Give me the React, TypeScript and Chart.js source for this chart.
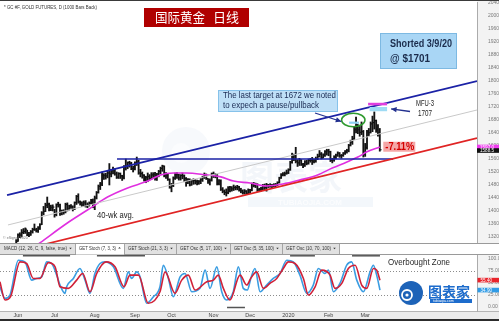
import { useEffect, useRef } from "react";
import { Chart, registerables } from "chart.js";

Chart.register(...registerables);

const SANS = '"Liberation Sans", Arial, Helvetica, sans-serif';
const CJK = '"Noto Sans CJK SC", "Noto Sans CJK TC", sans-serif';

// Horizontal axis counts trading days: day 0 is 3 Jun 2019, the last bar is 12 Mar 2020
const DAY_MIN = -9.85;
const DAY_MAX = 251.2;
const PRICE_MIN = 1301.5;
const PRICE_MAX = 2043.1;
const STOCH_MIN = -8.25;
const STOCH_MAX = 107.2;

const firstBarDay = -1;

const barHigh = [
  1312,
  1330, 1333, 1343, 1346, 1348, 1341, 1334, 1340, 1347, 1360,
  1347, 1352, 1361, 1398, 1414, 1424, 1443, 1424, 1418, 1419,
  1405, 1422, 1427, 1421, 1403, 1404, 1424, 1425, 1418, 1420,
  1416, 1428, 1448, 1453, 1431, 1428, 1431, 1432, 1425, 1428,
  1436, 1437, 1446, 1460, 1480, 1488, 1520, 1515, 1516, 1522,
  1546, 1528, 1535, 1530, 1520, 1518, 1517, 1510, 1540, 1560,
  1551, 1553, 1550, 1538, 1551, 1566, 1556, 1528, 1520, 1512,
  1507, 1517, 1512, 1518, 1518, 1519, 1516, 1525, 1535, 1541,
  1539, 1518, 1515, 1499, 1485, 1505, 1517, 1518, 1513, 1512,
  1517, 1511, 1503, 1500, 1499, 1496, 1499, 1497, 1495, 1494,
  1500, 1507, 1517, 1514, 1500, 1499, 1517, 1520, 1515, 1512,
  1497, 1496, 1472, 1465, 1468, 1475, 1476, 1475, 1480, 1477,
  1479, 1476, 1470, 1465, 1466, 1463, 1468, 1467, 1486, 1488,
  1486, 1484, 1470, 1473, 1482, 1483, 1485, 1482, 1484, 1482,
  1484, 1485, 1490, 1504, 1515, 1518, 1520, 1526, 1530, 1553,
  1578, 1575, 1596, 1558, 1562, 1558, 1547, 1555, 1556, 1560,
  1562, 1565, 1560, 1566, 1575, 1586, 1580, 1576, 1586, 1590,
  1590, 1584, 1562, 1570, 1575, 1582, 1580, 1574, 1580, 1586,
  1590, 1605, 1618, 1630, 1658, 1689, 1666, 1660, 1674, 1648,
  1608, 1648, 1654, 1674, 1692, 1705, 1680, 1666, 1654,
];

const barLow = [
  1292,
  1306, 1318, 1320, 1330, 1331, 1324, 1321, 1325, 1332, 1340,
  1335, 1334, 1343, 1358, 1388, 1398, 1410, 1400, 1401, 1400,
  1381, 1385, 1412, 1386, 1388, 1390, 1394, 1400, 1403, 1408,
  1400, 1404, 1420, 1424, 1418, 1413, 1414, 1412, 1410, 1415,
  1420, 1410, 1404, 1437, 1455, 1466, 1478, 1497, 1498, 1502,
  1480, 1505, 1514, 1510, 1500, 1500, 1500, 1494, 1499, 1526,
  1530, 1535, 1527, 1520, 1526, 1540, 1513, 1505, 1501, 1492,
  1487, 1490, 1496, 1497, 1500, 1495, 1494, 1505, 1514, 1522,
  1505, 1500, 1494, 1470, 1459, 1475, 1497, 1500, 1495, 1495,
  1499, 1490, 1476, 1484, 1477, 1479, 1482, 1483, 1480, 1482,
  1484, 1491, 1500, 1497, 1485, 1480, 1492, 1503, 1502, 1480,
  1480, 1463, 1456, 1450, 1446, 1453, 1459, 1461, 1463, 1465,
  1465, 1461, 1456, 1452, 1452, 1451, 1453, 1454, 1462, 1474,
  1472, 1460, 1460, 1461, 1464, 1465, 1461, 1472, 1473, 1472,
  1474, 1474, 1478, 1486, 1500, 1508, 1508, 1513, 1515, 1525,
  1547, 1555, 1548, 1537, 1540, 1540, 1533, 1537, 1542, 1544,
  1550, 1543, 1548, 1550, 1558, 1566, 1560, 1563, 1568, 1572,
  1570, 1552, 1548, 1553, 1560, 1568, 1565, 1562, 1568, 1574,
  1578, 1582, 1600, 1605, 1620, 1640, 1638, 1630, 1635, 1566,
  1568, 1590, 1632, 1640, 1644, 1652, 1642, 1630, 1584,
];

const barClose = [
  1306,
  1326, 1326, 1334, 1337, 1344, 1327, 1326, 1336, 1343, 1342,
  1339, 1346, 1358, 1394, 1399, 1418, 1421, 1407, 1411, 1412,
  1389, 1420, 1419, 1400, 1399, 1397, 1420, 1406, 1415, 1413,
  1406, 1426, 1445, 1428, 1426, 1419, 1425, 1415, 1419, 1424,
  1431, 1413, 1440, 1457, 1476, 1483, 1510, 1509, 1508, 1517,
  1514, 1524, 1525, 1514, 1504, 1515, 1508, 1505, 1537, 1537,
  1549, 1547, 1530, 1529, 1548, 1551, 1517, 1515, 1510, 1499,
  1503, 1506, 1500, 1511, 1513, 1502, 1514, 1522, 1531, 1538,
  1512, 1512, 1497, 1472, 1478, 1501, 1513, 1512, 1502, 1509,
  1508, 1500, 1489, 1497, 1480, 1493, 1494, 1490, 1485, 1491,
  1496, 1503, 1512, 1500, 1493, 1494, 1515, 1511, 1509, 1484,
  1493, 1467, 1461, 1457, 1456, 1465, 1473, 1468, 1472, 1472,
  1474, 1465, 1462, 1456, 1461, 1454, 1465, 1463, 1484, 1478,
  1482, 1465, 1467, 1469, 1478, 1472, 1480, 1477, 1479, 1478,
  1481, 1481, 1488, 1502, 1512, 1513, 1515, 1517, 1527, 1550,
  1560, 1570, 1553, 1548, 1557, 1543, 1540, 1551, 1547, 1556,
  1556, 1553, 1554, 1561, 1568, 1575, 1563, 1572, 1583, 1585,
  1582, 1556, 1557, 1566, 1572, 1578, 1570, 1571, 1578, 1584,
  1586, 1602, 1612, 1622, 1650, 1666, 1650, 1642, 1644, 1575,
  1595, 1643, 1641, 1668, 1672, 1678, 1650, 1641, 1588.5,
];

const monthTickDay = [0, 20, 42, 64, 84, 107, 127, 148, 170, 190];
const monthTickLabel = ["Jun", "Jul", "Aug", "Sep", "Oct", "Nov", "Dec", "2020", "Feb", "Mar"];

const priceTicks = [1320, 1360, 1400, 1440, 1480, 1520, 1560, 1600, 1640, 1680, 1720, 1760, 1800, 1840, 1880, 1920, 1960, 2000, 2040];
const stochTicks = [0, 25, 50, 75, 100];

// 40-week moving average
const maDay = [8, 12, 27, 38, 49, 60, 71, 78, 85, 92, 103, 111, 118, 127, 136, 145, 154, 164, 172, 180, 186, 191, 198];
const maPrice = [1286, 1302, 1363, 1403, 1443, 1471, 1492, 1511, 1517, 1517, 1511, 1505, 1492, 1486, 1477, 1483, 1495, 1511, 1532, 1551, 1566, 1582, 1597];

// Channel and support lines (end points)
const upperChannelDay = [-6, 251.2];
const upperChannelPrice = [1449, 1800];
const midChannelDay = [-5.5, 251.2];
const midChannelPrice = [1357, 1710.8];
const lowerChannelDay = [10, 251.2];
const lowerChannelPrice = [1291.1, 1624.6];
const supportDay = [54.2, 205.3];
const supportPrice = [1560, 1560];

// Stochastic (7, 3, 3)
const stochKDay = [-9.9, -7.1, -4.4, 0.2, 3.8, 7.5, 10.2, 13, 15.7, 18.4, 21.2, 23, 25.7, 26.6, 30.3, 33.9, 36.7, 39.4, 42.1, 44.9, 47.6, 52.2, 57.6, 60.4, 62.2, 65, 66.8, 70.4, 74.1, 77.7, 79.5, 82.3, 85, 88.7, 91.4, 95.1, 99.6, 102.4, 105.1, 108.8, 111.5, 114.2, 117.8, 120.6, 123.3, 125.5, 127.5, 129.7, 132.5, 136.1, 139.7, 143.4, 147.1, 150.7, 154.3, 158, 161.6, 164.4, 168, 169.9, 172.6, 176.2, 179.9, 182.6, 185.4, 189, 192.7, 194.5, 196.3, 198.1];
const stochKValue = [41.7, 17.8, 24.6, 96.5, 93, 55.4, 58.9, 62.2, 93, 89.7, 65.7, 45.2, 28.1, 41.7, 58.9, 79.5, 55.4, 28.1, 69.2, 89.7, 93, 82.8, 38.4, 72.5, 58.9, 72.5, 62.2, 7.6, 21.2, 41.7, 86.2, 58.9, 21.2, 62.2, 69.2, 31.4, 38.4, 76, 38.4, 82.8, 31.4, 14.4, 31.4, 82.8, 38.4, 35, 60, 79.5, 31.4, 45.2, 58.9, 69.2, 96.5, 93, 65.7, 28.1, 45.2, 79.5, 69.2, 76, 31.4, 48.6, 86.2, 93, 55.4, 31.4, 72.5, 86.2, 65.7, 34.9];
const stochDDay = [-9.9, -7.1, -4, 1.1, 4.7, 8.4, 12, 16.6, 20.3, 23, 27.5, 32.1, 35.4, 39.4, 43.1, 48.2, 53.1, 58, 61.3, 65.9, 71.3, 77.7, 80.5, 85.9, 89.6, 93.2, 96.9, 103.3, 106.9, 109.6, 112.4, 116, 121.5, 125.2, 127.5, 130.6, 134.3, 137.9, 141.6, 145.2, 148, 151.6, 156.2, 158.9, 162.6, 166.2, 170.8, 173.5, 177.2, 180.8, 184.5, 188.1, 190.9, 194.5, 196.3, 198.1];
const stochDValue = [52, 14.4, 22, 93, 89.7, 58.9, 58.9, 91.4, 82.8, 41.7, 38.4, 55.4, 69.2, 31.4, 69.2, 93, 82.8, 41.7, 65.7, 65.7, 7.6, 31.4, 72.5, 28.1, 55.4, 65.7, 34.9, 52, 55.4, 65.7, 38.4, 14.4, 65.7, 45.2, 60, 72.5, 38.4, 48.6, 58.9, 79.5, 93, 89.7, 58.9, 24.6, 41.7, 76, 65.7, 38.4, 48.6, 79.5, 86.2, 45.2, 38.4, 79.5, 76, 55.4];

const overboughtSpans = [[2.7, 28.5], [43.2, 69.5], [148.9, 162.5], [182.8, 198.1]];
const oversoldSpans = [[114.4, 124.2]];

// Annotation levels
const targetPrice = 1672;
const mfuPrice = 1707;
const mfuTopPrice = 1733;
const targetHighDay = 185;
const targetHighPrice = 1689;
const dropLabel = "-7.11%";

const indicatorTabs = [
  { label: "MACD (12, 26, C, 9, false, true)", x0: 0, x1: 75, active: false },
  { label: "GET Stoch (7, 3, 3)", x0: 75, x1: 124, active: true },
  { label: "GET Stoch (21, 3, 3)", x0: 124, x1: 176, active: false },
  { label: "GET Osc (5, 17, 100)", x0: 176, x1: 230, active: false },
  { label: "GET Osc (5, 35, 100)", x0: 230, x1: 282, active: false },
  { label: "GET Osc (10, 70, 100)", x0: 282, x1: 339, active: false },
];

const toPoints = (xs: number[], ys: number[]) => xs.map((x, i) => ({ x, y: ys[i] }));

function drawArrow(ctx: CanvasRenderingContext2D, x0: number, y0: number, x1: number, y1: number, color: string) {
  ctx.strokeStyle = color;
  ctx.fillStyle = color;
  ctx.lineWidth = 1.3;
  ctx.beginPath();
  ctx.moveTo(x0, y0);
  ctx.lineTo(x1, y1);
  ctx.stroke();
  const a = Math.atan2(y1 - y0, x1 - x0);
  const L = 5.5;
  const W = 2.6;
  ctx.beginPath();
  ctx.moveTo(x1, y1);
  ctx.lineTo(x1 - L * Math.cos(a) + W * Math.sin(a), y1 - L * Math.sin(a) - W * Math.cos(a));
  ctx.lineTo(x1 - L * Math.cos(a) - W * Math.sin(a), y1 - L * Math.sin(a) + W * Math.cos(a));
  ctx.closePath();
  ctx.fill();
}

function drawTag(ctx: CanvasRenderingContext2D, x: number, y: number, w: number, h: number, bg: string, fg: string, text: string) {
  ctx.fillStyle = bg;
  ctx.fillRect(x, y - h / 2, w, h);
  ctx.fillStyle = fg;
  ctx.font = `4.6px ${SANS}`;
  ctx.textAlign = "left";
  ctx.textBaseline = "middle";
  ctx.fillText(text, x + 3, y + 0.3, w - 5);
}

const priceDecor = {
  id: "priceDecor",
  beforeDraw(chart: any) {
    const { ctx, chartArea: a, width, height } = chart;
    ctx.save();
    ctx.fillStyle = "#f3f3f3";
    ctx.fillRect(a.right, 0, width - a.right, height);
    ctx.restore();
  },
  beforeDatasetsDraw(chart: any) {
    const { ctx } = chart;
    ctx.save();
    // faint site watermark
    ctx.fillStyle = "rgba(205,218,235,0.16)";
    ctx.beginPath();
    ctx.arc(186, 151, 24, 0, Math.PI * 2);
    ctx.fill();
    ctx.fillStyle = "rgba(255,255,255,0.5)";
    ctx.beginPath();
    ctx.arc(181, 153, 10, 0, Math.PI * 2);
    ctx.fill();
    ctx.font = `bold 34px ${CJK}`;
    ctx.fillStyle = "rgba(196,212,232,0.2)";
    ctx.textAlign = "left";
    ctx.textBaseline = "middle";
    ctx.fillText("图表家", 240, 177, 132);
    ctx.fillStyle = "rgba(208,222,238,0.25)";
    ctx.fillRect(248, 197, 125, 10);
    ctx.fillStyle = "rgba(255,255,255,0.7)";
    ctx.font = `bold 8px ${SANS}`;
    ctx.textAlign = "center";
    ctx.fillText("TUBIAOJIA.COM", 310, 202.5, 116);
    ctx.restore();
  },
  afterDatasetDraw(chart: any, args: any) {
    if (args.meta.type !== "bar") return;
    const { ctx, chartArea: a, scales } = chart;
    ctx.save();
    ctx.beginPath();
    ctx.rect(a.left, a.top, a.right - a.left, a.bottom - a.top);
    ctx.clip();
    ctx.fillStyle = "#111";
    barClose.forEach((c, i) => {
      const x = scales.x.getPixelForValue(firstBarDay + i);
      const y = scales.y.getPixelForValue(c);
      ctx.fillRect(x + 0.4, y - 0.6, 1.3, 1.2);
    });
    ctx.restore();
  },
  afterDraw(chart: any) {
    const { ctx, scales } = chart;
    const X = (d: number) => scales.x.getPixelForValue(d);
    const Y = (p: number) => scales.y.getPixelForValue(p);
    ctx.save();

    // symbol caption
    ctx.fillStyle = "#333";
    ctx.font = `4.6px ${SANS}`;
    ctx.textAlign = "left";
    ctx.textBaseline = "middle";
    ctx.fillText("* GC #F, GOLD FUTURES, D (1000 Bars Back)", 4, 7.5, 93);

    // title banner
    ctx.fillStyle = "#b00000";
    ctx.fillRect(144, 8, 105, 19);
    ctx.fillStyle = "#ffffff";
    ctx.font = `13px ${CJK}`;
    ctx.textBaseline = "middle";
    ctx.fillText("国际黄金", 155, 17.5, 50);
    ctx.fillText("日线", 213, 17.5, 26);

    // short entry note
    ctx.fillStyle = "#a9d6f5";
    ctx.fillRect(380, 33, 77, 36);
    ctx.strokeStyle = "#7db9e2";
    ctx.lineWidth = 1;
    ctx.strokeRect(380.5, 33.5, 76, 35);
    ctx.fillStyle = "#1b2c4c";
    ctx.font = `bold 11px ${SANS}`;
    ctx.fillText("Shorted 3/9/20", 390, 43.5, 62);
    ctx.fillText("@ $1701", 390, 59, 40);

    // target note
    ctx.fillStyle = "#bfe0f7";
    ctx.fillRect(218, 90, 120, 22);
    ctx.strokeStyle = "#86c2ea";
    ctx.strokeRect(218.5, 90.5, 119, 21);
    ctx.fillStyle = "#1a2a52";
    ctx.font = `9px ${SANS}`;
    ctx.fillText("The last target at 1672 we noted", 223, 96, 113);
    ctx.fillText("to expech a pause/pullback", 223, 105.5, 96);

    // ring round the target high
    const ex = X(targetHighDay - 1.5);
    const ey = Y(targetHighPrice - 9);
    ctx.fillStyle = "#8fd2f2";
    ctx.fillRect(X(181.2), Y(targetPrice) - 1, X(186.6) - X(181.2), 2.2);
    ctx.strokeStyle = "#2f9a2f";
    ctx.lineWidth = 1.5;
    ctx.beginPath();
    ctx.ellipse(ex, ey, 11.7, 6.7, 0, 0, Math.PI * 2);
    ctx.stroke();
    drawArrow(ctx, 315, 113, ex - 12, ey + 1.5, "#22308f");

    // MFU-3 band
    const mx0 = X(191.6);
    const mx1 = X(202);
    ctx.fillStyle = "#e03ede";
    ctx.fillRect(mx0, Y(mfuTopPrice), mx1 - mx0, Y(1725) - Y(mfuTopPrice));
    ctx.fillStyle = "#9edbf4";
    ctx.fillRect(mx0 + 1.5, Y(1720), mx1 - mx0 - 1.5, Y(mfuPrice) - Y(1720));
    drawArrow(ctx, 410, 111.5, mx1 + 4, Y(1714), "#22308f");
    ctx.fillStyle = "#222";
    ctx.font = `9px ${SANS}`;
    ctx.fillText("MFU-3", 416, 104, 18);
    ctx.fillText(String(mfuPrice), 418, 114, 14);

    // drop from the high
    const lastDay = firstBarDay + barClose.length - 1;
    const lastClose = barClose[barClose.length - 1];
    const bx = X(lastDay) + 3.5;
    const by = Y(lastClose) - 8;
    ctx.fillStyle = "#f4a7a7";
    ctx.fillRect(bx, by, 32, 10);
    ctx.fillStyle = "#d40000";
    ctx.font = `bold 10px ${SANS}`;
    ctx.fillText(dropLabel, bx + 2, by + 5.3, 29);

    // moving average caption
    ctx.fillStyle = "#222";
    ctx.font = `9px ${SANS}`;
    ctx.fillText("40-wk avg.", 97, 216, 37);

    ctx.fillStyle = "#777";
    ctx.font = `3.6px ${SANS}`;
    ctx.fillText("© eSignal 2020", 3, 237.5, 28);

    // value tags on the price axis
    const maLast = maPrice[maPrice.length - 1];
    drawTag(ctx, 477, Y(maLast), 22, 4.6, "#f03cf0", "#ffffff", maLast.toFixed(1));
    drawTag(ctx, 477, Y(lastClose) + 0.8, 22, 4.6, "#111111", "#ffffff", lastClose.toFixed(1));

    ctx.restore();
  },
};

const stochDecor = {
  id: "stochDecor",
  beforeDraw(chart: any) {
    const { ctx, chartArea: a, width, height } = chart;
    ctx.save();
    ctx.fillStyle = "#f3f3f3";
    ctx.fillRect(a.right, a.top, width - a.right, height - a.top);
    ctx.fillStyle = "#ececec";
    ctx.fillRect(0, a.bottom, width, height - a.bottom);
    ctx.strokeStyle = "#b5b5b5";
    ctx.lineWidth = 1;
    ctx.beginPath();
    ctx.moveTo(0, a.bottom + 0.5);
    ctx.lineTo(width, a.bottom + 0.5);
    ctx.stroke();

    // indicator tab strip
    ctx.fillStyle = "#e1e1e1";
    ctx.fillRect(0, 1, 339, 10);
    ctx.strokeStyle = "#9a9a9a";
    ctx.beginPath();
    ctx.moveTo(0, 0.5);
    ctx.lineTo(width, 0.5);
    ctx.moveTo(0, 11.5);
    ctx.lineTo(width, 11.5);
    ctx.stroke();
    indicatorTabs.forEach((t) => {
      if (t.active) {
        ctx.fillStyle = "#ffffff";
        ctx.fillRect(t.x0 + 1, 1, t.x1 - t.x0 - 1, 10.5);
      }
      ctx.strokeStyle = "#a5a5a5";
      ctx.beginPath();
      ctx.moveTo(t.x1 + 0.5, 1);
      ctx.lineTo(t.x1 + 0.5, 11);
      ctx.stroke();
      ctx.fillStyle = "#333";
      ctx.font = `4.6px ${SANS}`;
      ctx.textAlign = "left";
      ctx.textBaseline = "middle";
      ctx.fillText(t.label, t.x0 + 4, 6.2, t.x1 - t.x0 - 12);
      const mx = t.x1 - 4.5;
      ctx.beginPath();
      if (t.active) {
        ctx.moveTo(mx - 1.3, 5.5);
        ctx.lineTo(mx + 1.3, 5.5);
        ctx.lineTo(mx, 4);
      } else {
        ctx.moveTo(mx - 1.3, 4.8);
        ctx.lineTo(mx + 1.3, 4.8);
        ctx.lineTo(mx, 6.3);
      }
      ctx.closePath();
      ctx.fill();
    });
    ctx.restore();
  },
  beforeDatasetsDraw(chart: any) {
    const { ctx, chartArea: a, scales } = chart;
    ctx.save();
    ctx.strokeStyle = "#8c8c8c";
    ctx.lineWidth = 1;
    ctx.setLineDash([1, 2]);
    [25, 75].forEach((v) => {
      const y = Math.round(scales.y.getPixelForValue(v)) + 0.5;
      ctx.beginPath();
      ctx.moveTo(a.left, y);
      ctx.lineTo(a.right, y);
      ctx.stroke();
    });
    ctx.restore();
  },
  afterDraw(chart: any) {
    const { ctx, chartArea: a, scales } = chart;
    const X = (d: number) => scales.x.getPixelForValue(d);
    ctx.save();
    ctx.strokeStyle = "#555";
    ctx.lineWidth = 1.5;
    overboughtSpans.forEach(([d0, d1]) => {
      ctx.beginPath();
      ctx.moveTo(X(d0), a.top + 0.8);
      ctx.lineTo(X(d1), a.top + 0.8);
      ctx.stroke();
    });
    oversoldSpans.forEach(([d0, d1]) => {
      const y = scales.y.getPixelForValue(0) + 0.5;
      ctx.beginPath();
      ctx.moveTo(X(d0), y);
      ctx.lineTo(X(d1), y);
      ctx.stroke();
    });

    ctx.fillStyle = "#2a2a2a";
    ctx.font = `9px ${SANS}`;
    ctx.textAlign = "left";
    ctx.textBaseline = "middle";
    ctx.fillText("Overbought Zone", 388, 19.5, 62);

    // site logo
    ctx.fillStyle = "#1d63b8";
    ctx.beginPath();
    ctx.arc(411, 50, 12, 0, Math.PI * 2);
    ctx.fill();
    ctx.strokeStyle = "#ffffff";
    ctx.lineWidth = 1.8;
    ctx.beginPath();
    ctx.arc(407, 52, 5, 0, Math.PI * 2);
    ctx.stroke();
    ctx.fillStyle = "#ffffff";
    ctx.beginPath();
    ctx.arc(407, 52, 1.6, 0, Math.PI * 2);
    ctx.fill();
    ctx.fillStyle = "#1d6ccc";
    ctx.font = `bold 14px ${CJK}`;
    ctx.fillText("图表家", 428, 48.5, 45);
    ctx.fillRect(430, 56, 42, 4);
    ctx.fillStyle = "#ffffff";
    ctx.font = `3.5px ${SANS}`;
    ctx.fillText("tubiaojia.com", 433, 58.2, 36);

    const kLast = stochKValue[stochKValue.length - 1];
    const dLast = stochDValue[stochDValue.length - 1];
    drawTag(ctx, 477.5, scales.y.getPixelForValue(dLast), 21.5, 4.6, "#e8242c", "#ffffff", dLast.toFixed(2));
    drawTag(ctx, 477.5, scales.y.getPixelForValue(kLast), 21.5, 4.6, "#2f9be6", "#ffffff", kLast.toFixed(2));
    ctx.restore();
  },
};

function rightAxis(min: number, max: number, ticks: number[], digits: number) {
  return {
    position: "right",
    min,
    max,
    grid: { display: false },
    border: { display: true, color: "#ababab", width: 1 },
    ticks: {
      color: "#7a7a7a",
      font: { family: SANS, size: 5 },
      padding: 3,
      callback: (v: any) => Number(v).toFixed(digits),
    },
    afterBuildTicks: (s: any) => {
      s.ticks = ticks.map((value) => ({ value }));
    },
    afterFit: (s: any) => {
      s.width = 22;
      s.paddingTop = 0;
      s.paddingBottom = 0;
    },
  };
}

export default function App() {
  const priceRef = useRef<HTMLCanvasElement>(null);
  const stochRef = useRef<HTMLCanvasElement>(null);

  useEffect(() => {
    document.body.style.margin = "0";
    const bars = barHigh.map((h, i) => ({ x: firstBarDay + i, y: [barLow[i], h] }));
    const line = (label: string, data: any[], color: string, width: number, order: number, extra: any = {}) => ({
      type: "line",
      label,
      data,
      borderColor: color,
      borderWidth: width,
      pointRadius: 0,
      fill: false,
      order,
      ...extra,
    });

    const priceChart = new Chart(priceRef.current as HTMLCanvasElement, {
      type: "bar",
      data: {
        datasets: [
          line("Upper channel", toPoints(upperChannelDay, upperChannelPrice), "#1b22a6", 1.7, 1),
          line("Lower channel", toPoints(lowerChannelDay, lowerChannelPrice), "#e02424", 1.7, 1),
          line("Support", toPoints(supportDay, supportPrice), "#1b22a6", 1.5, 1),
          line("Mid channel", toPoints(midChannelDay, midChannelPrice), "#c9c9c9", 1, 1),
          line("40-wk avg.", toPoints(maDay, maPrice), "#e02fe0", 1.6, 2, { cubicInterpolationMode: "monotone" }),
          {
            type: "bar",
            label: "GC #F",
            data: bars,
            backgroundColor: "#141414",
            borderWidth: 0,
            barThickness: 1.2,
            order: 3,
          },
        ],
      } as any,
      options: {
        animation: false,
        responsive: false,
        maintainAspectRatio: false,
        layout: { padding: { top: 2, bottom: 0, left: 0, right: 0 } },
        plugins: { legend: { display: false }, tooltip: { enabled: false } },
        scales: {
          x: { type: "linear", min: DAY_MIN, max: DAY_MAX, display: false, offset: false, grid: { display: false } },
          y: rightAxis(PRICE_MIN, PRICE_MAX, priceTicks, 1),
        },
      } as any,
      plugins: [priceDecor],
    });

    const stochChart = new Chart(stochRef.current as HTMLCanvasElement, {
      type: "line",
      data: {
        datasets: [
          line("%D", toPoints(stochDDay, stochDValue), "#d02138", 1.6, 0, { cubicInterpolationMode: "monotone" }),
          line("%K", toPoints(stochKDay, stochKValue), "#3a9de2", 1.6, 0, { cubicInterpolationMode: "monotone" }),
        ],
      } as any,
      options: {
        animation: false,
        responsive: false,
        maintainAspectRatio: false,
        layout: { padding: { top: 12, bottom: 0, left: 0, right: 0 } },
        plugins: { legend: { display: false }, tooltip: { enabled: false } },
        scales: {
          x: {
            type: "linear",
            min: DAY_MIN,
            max: DAY_MAX,
            offset: false,
            grid: { display: false, drawTicks: false },
            border: { display: false },
            ticks: {
              autoSkip: false,
              maxRotation: 0,
              minRotation: 0,
              padding: 1.5,
              color: "#444",
              font: { family: SANS, size: 5.5 },
              callback: (v: any) => monthTickLabel[monthTickDay.indexOf(Number(v))] ?? "",
            },
            afterBuildTicks: (s: any) => {
              s.ticks = monthTickDay.map((value) => ({ value }));
            },
            afterFit: (s: any) => {
              s.height = 8;
              s.paddingLeft = 0;
              s.paddingRight = 0;
            },
          },
          y: rightAxis(STOCH_MIN, STOCH_MAX, stochTicks, 2),
        },
      } as any,
      plugins: [stochDecor],
    });

    return () => {
      priceChart.destroy();
      stochChart.destroy();
    };
  }, []);

  return (
    <div style={{ position: "relative", width: 499, height: 321, background: "#ffffff", overflow: "hidden" }}>
      <canvas ref={priceRef} width={499} height={243} style={{ position: "absolute", left: 0, top: 0, width: 499, height: 243 }} />
      <canvas ref={stochRef} width={499} height={76} style={{ position: "absolute", left: 0, top: 243, width: 499, height: 76 }} />
      <div style={{ position: "absolute", left: 0, top: 0, width: 499, height: 1, background: "#3a3a3a" }} />
      <div style={{ position: "absolute", left: 0, top: 319, width: 499, height: 2, background: "#2c2c2c" }} />
    </div>
  );
}
